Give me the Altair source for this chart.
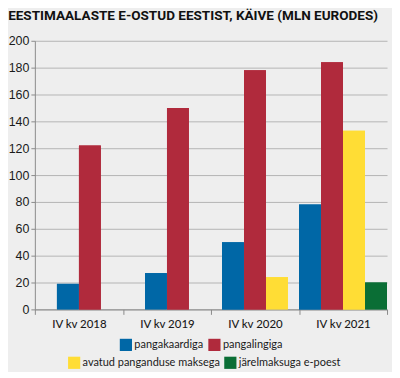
import altair as alt
import pandas as pd

quarters = ["IV kv 2018", "IV kv 2019", "IV kv 2020", "IV kv 2021"]
series = ["pangakaardiga", "pangalingiga", "avatud panganduse maksega", "järelmaksuga e-poest"]
colors = ["#0067a6", "#b02a3c", "#ffdd35", "#0a6e35"]
pangakaardiga = [19, 27, 50, 78]
pangalingiga = [122, 150, 178, 184]
avatud = [None, None, 24, 133]
jarelmaks = [None, None, None, 20]
y_ticks = [0, 20, 40, 60, 80, 100, 120, 140, 160, 180, 200]

rows = []
for s_idx, (s, vals) in enumerate(zip(series, [pangakaardiga, pangalingiga, avatud, jarelmaks])):
    for q, v in zip(quarters, vals):
        if v is not None:
            rows.append({"kvartal": q, "seeria": s, "order": s_idx, "vaartus": v})
df = pd.DataFrame(rows)

offsets = [-1.5, -1, -0.5, 0, 0.5, 1, 1.5]

base = (
    alt.Chart(df)
    .transform_window(rank="row_number()", groupby=["kvartal"], sort=[alt.SortField("order")])
    .transform_joinaggregate(cnt="count()", groupby=["kvartal"])
    .transform_calculate(off="datum.rank - (datum.cnt + 1) / 2")
)

x_enc = alt.X(
    "kvartal:N",
    sort=quarters,
    title=None,
    scale=alt.Scale(paddingInner=0, paddingOuter=0),
    axis=alt.Axis(
        labelAngle=0,
        tickBand="extent",
        labelFont="Lato",
        labelFontSize=11.5,
        labelFontWeight=500,
        labelColor="#1a1a1a",
        domainColor="#8a8a8a",
        tickColor="#8a8a8a",
        tickSize=5,
        labelPadding=4,
    ),
)
xo_enc = alt.XOffset("off:O", scale=alt.Scale(domain=offsets, paddingInner=0, paddingOuter=0.5))
y_enc = alt.Y(
    "vaartus:Q",
    title=None,
    scale=alt.Scale(domain=[0, 200], nice=False),
    axis=alt.Axis(
        values=y_ticks,
        labelFont="Liberation Sans",
        labelFontSize=12.5,
        labelColor="#1a1a1a",
        gridColor="#b4b4b4",
        domainColor="#8a8a8a",
        tickColor="#8a8a8a",
        tickSize=4,
        labelPadding=2,
    ),
)


def legend(vals, lx, ly):
    return alt.Legend(
        title=None,
        values=vals,
        orient="none",
        legendX=lx,
        legendY=ly,
        direction="horizontal",
        padding=0,
        symbolType="square",
        symbolSize=150,
        symbolStrokeWidth=0,
        symbolOpacity=1,
        labelFont="Lato",
        labelFontSize=11,
        labelColor="#1a1a1a",
        labelOffset=2,
        columnPadding=4,
        labelLimit=300,
    )


layer_a = base.mark_bar(width=22).encode(
    x=x_enc,
    xOffset=xo_enc,
    y=y_enc,
    color=alt.Color(
        "seeria:N",
        scale=alt.Scale(domain=series, range=colors),
        legend=legend(series[:2], 85, 299),
    ),
)
layer_b = base.mark_bar(width=22).encode(
    x=x_enc,
    xOffset=xo_enc,
    y=y_enc,
    color=alt.Color(
        "seeria:N",
        scale=alt.Scale(domain=series, range=colors),
        legend=legend(series[2:], 33, 317),
    ),
)

chart = (
    alt.layer(layer_a, layer_b)
    .resolve_scale(color="independent")
    .properties(
        width=354,
        height=270,
        background="#eeeeee",
        padding={"left": 0, "top": 0, "right": 4, "bottom": 2},
        title=alt.TitleParams(
            "EESTIMAALASTE E-OSTUD EESTIST, KÄIVE (MLN EURODES)",
            anchor="start",
            frame="bounds",
            font="Roboto",
            fontSize=13.6,
            fontWeight="bold",
            color="#111111",
            offset=12,
        ),
    )
    .configure_view(stroke=None)
)

chart.save("out.html", embed_options={"renderer": "svg", "actions": False})
